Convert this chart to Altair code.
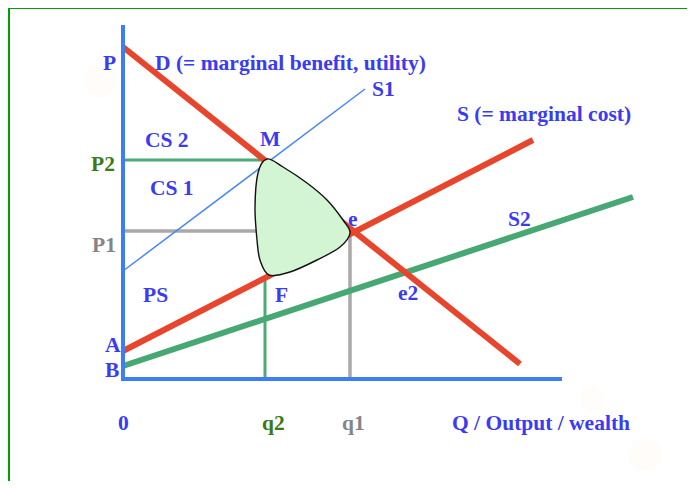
import altair as alt
import pandas as pd

# ---- data (economic coordinates: Q to the right, P upward) ----
seg_names = ["P1 line", "q1 line", "P2 line", "q2 line", "S1", "S2", "S", "D"]
seg_q0 = [0, 227, 0, 142, 0, 0, 0, 0]
seg_p0 = [148, 146, 219, 103, 108, 13, 28, 332]
seg_q1 = [140, 227, 142, 142, 242, 510, 410, 397]
seg_p1 = [148, 1, 219, 1, 290, 182, 239, 15]
seg_colors = ["#a9a9a9", "#a9a9a9", "#4caa78", "#4caa78", "#4a86f2", "#48a874", "#e8452d", "#e8452d"]
seg_widths = [3.5, 3.5, 3, 3, 1.5, 6, 6, 6]

# welfare-loss blob outline (M -> e -> F -> back)
blob_q = [144, 160, 184, 204, 220, 227, 217, 194, 167, 146, 137, 134, 132, 135]
blob_p = [220, 212, 196, 179, 159, 146, 132, 119, 107, 104, 119, 139, 172, 206]

# axes
axis_q = [0, 0, 439]
axis_p = [354, 0, 0]

# faint background star glows
glow_q = [522, -23, 470]
glow_p = [-76, 299, -20]
glow_s = [1100, 1100, 600]

labels = ["P", "D (= marginal benefit, utility)", "S1", "S (= marginal cost)", "CS 2", "M",
          "P2", "CS 1", "P1", "e", "S2", "PS", "F", "e2", "A", "B", "0", "q2", "q1",
          "Q / Output / wealth"]
label_q = [-20, 32, 249, 334, 22, 137, -32, 27, -31, 225, 385, 20, 152, 275, -18, -18, -5, 139, 219, 329]
label_p = [309, 309, 283, 258, 232, 233, 208, 184, 127, 153, 153, 77, 77, 79, 27, 2, -51, -51, -51, -51]
BLUE_T = "#3b3bf2"
label_colors = [BLUE_T, BLUE_T, BLUE_T, BLUE_T, BLUE_T, BLUE_T, "#3c7a14", BLUE_T, "#858585",
                BLUE_T, BLUE_T, BLUE_T, BLUE_T, BLUE_T, BLUE_T, BLUE_T, BLUE_T, "#3c7a14",
                "#858585", BLUE_T]

# ---- tables ----
rows = []
for i, n in enumerate(seg_names):
    rows.append(dict(seg=n, i=0, q=seg_q0[i], p=seg_p0[i], c=seg_colors[i], w=seg_widths[i]))
    rows.append(dict(seg=n, i=1, q=seg_q1[i], p=seg_p1[i], c=seg_colors[i], w=seg_widths[i]))
seg_df = pd.DataFrame(rows)
blob_df = pd.DataFrame(dict(q=blob_q, p=blob_p, i=list(range(len(blob_q)))))
axis_df = pd.DataFrame(dict(q=axis_q, p=axis_p, i=[0, 1, 2]))
glow_df = pd.DataFrame(dict(q=glow_q, p=glow_p, s=glow_s))
lab_df = pd.DataFrame(dict(t=labels, q=label_q, p=label_p, c=label_colors))
frame_df = pd.DataFrame(dict(q=[-115, -115], q2=[-113, 564], p=[-102, 370], p2=[371, 371]))

X = alt.Scale(domain=[-115, 564])
Y = alt.Scale(domain=[-102, 371])

frame = alt.Chart(frame_df).mark_rect(color="#00a000").encode(
    x=alt.X("q:Q", scale=X, axis=None), x2="q2:Q",
    y=alt.Y("p:Q", scale=Y, axis=None), y2="p2:Q")

glow = alt.Chart(glow_df).mark_circle(color="#f7c4a0", opacity=0.06).encode(
    x=alt.X("q:Q", scale=X, axis=None),
    y=alt.Y("p:Q", scale=Y, axis=None),
    size=alt.Size("s:Q", scale=None),
)

segs = alt.Chart(seg_df).mark_line(strokeCap="butt").encode(
    x=alt.X("q:Q", scale=X, axis=None),
    y=alt.Y("p:Q", scale=Y, axis=None),
    detail="seg:N",
    order="i:Q",
    color=alt.Color("c:N", scale=None),
    strokeWidth=alt.StrokeWidth("w:Q", scale=None),
)

blob = alt.Chart(blob_df).mark_line(
    fill="#d3f5d3", stroke="#111111", strokeWidth=1.4, interpolate="cardinal-closed"
).encode(
    x=alt.X("q:Q", scale=X, axis=None),
    y=alt.Y("p:Q", scale=Y, axis=None),
    order="i:Q",
)

axes = alt.Chart(axis_df).mark_line(color="#3f7ef2", strokeWidth=4, strokeJoin="miter").encode(
    x=alt.X("q:Q", scale=X, axis=None),
    y=alt.Y("p:Q", scale=Y, axis=None),
    order="i:Q",
)

text = alt.Chart(lab_df).mark_text(
    align="left", baseline="alphabetic", font="Liberation Serif",
    fontWeight="bold", fontSize=21.5
).encode(
    x=alt.X("q:Q", scale=X, axis=None),
    y=alt.Y("p:Q", scale=Y, axis=None),
    text="t:N",
    color=alt.Color("c:N", scale=None),
)

chart = alt.layer(frame, glow, segs, blob, axes, text).properties(
    width=679, height=473, padding=0, autosize=alt.AutoSizeParams(type="none"),
    background="white",
).configure_view(stroke=None)

chart.save("out.html", embed_options={"renderer": "svg", "actions": False})
